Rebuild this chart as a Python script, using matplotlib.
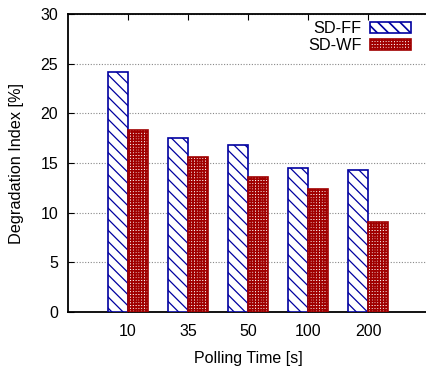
import numpy as np
import matplotlib.pyplot as plt

plt.rcParams['font.family'] = ['Liberation Sans', 'DejaVu Sans']

polling = ['10', '35', '50', '100', '200']
sd_ff = [24.2, 17.5, 16.8, 14.5, 14.3]
sd_wf = [18.3, 15.6, 13.6, 12.4, 9.1]

blue = '#0000a0'
red = '#a00000'

fig = plt.figure(figsize=(4.26, 3.66), dpi=100)
ax = fig.add_axes([68/426, 54/366, 360/426, 298/366])

x = np.arange(len(polling))
w = 1/3

plt.rcParams['hatch.linewidth'] = 0.9
ax.bar(x - w/2, sd_ff, w, facecolor='white', edgecolor=blue, hatch='\\\\\\',
       linewidth=1.2, label='SD-FF', zorder=3)
plt.rcParams['hatch.linewidth'] = 1.2
ax.bar(x + w/2, sd_wf, w, facecolor='white', edgecolor=red, hatch='++++++',
       linewidth=1.2, label='SD-WF', zorder=3)

ax.set_xlim(-1, 5)
ax.set_ylim(0, 30)
ax.set_xticks(x)
ax.set_xticklabels(polling)
ax.set_yticks(np.arange(0, 31, 5))
ax.tick_params(axis='both', direction='in', labelsize=11.5, length=4, width=0.8)
ax.tick_params(axis='x', top=True, pad=9)
ax.tick_params(axis='y', pad=7)
ax.yaxis.grid(True, linestyle=(0, (1, 1.5)), color='#888888', linewidth=0.8)
ax.set_axisbelow(True)

for s in ['left', 'bottom', 'top']:
    ax.spines[s].set_linewidth(1.3)

ax.set_xlabel('Polling Time [s]', fontsize=11.5, labelpad=8)
ax.set_ylabel('Degradation Index [%]', fontsize=11.7, labelpad=12)

fig.legend(loc='upper right', bbox_to_anchor=(411/426, 1 - 21/366),
           markerfirst=False, frameon=False, fontsize=11.7,
           handlelength=2.5, handleheight=0.62, handletextpad=0.55,
           labelspacing=0.15, borderpad=0, borderaxespad=0)

fig.savefig('out.png', dpi=100)
